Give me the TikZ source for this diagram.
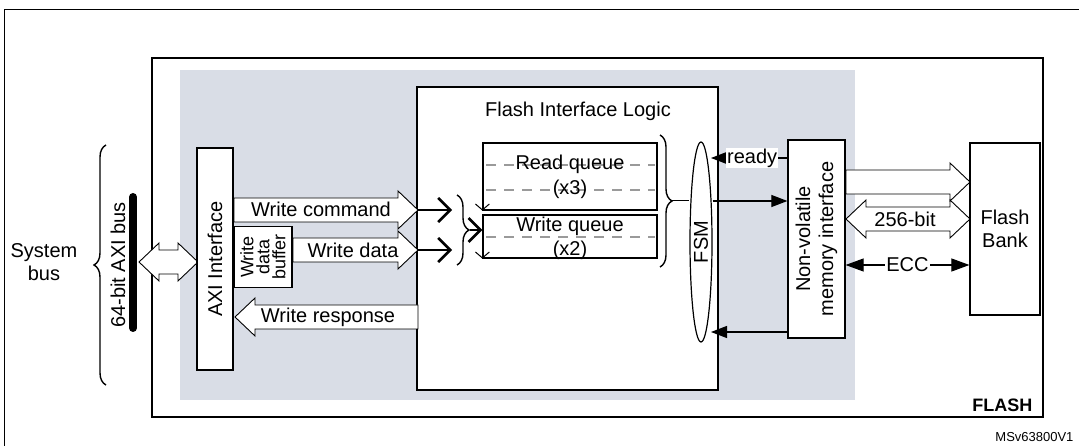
\documentclass[tikz,border=0pt]{standalone}
\usepackage{fontspec}
\setmainfont{Liberation Sans}
\usetikzlibrary{arrows.meta,shapes.geometric,decorations.pathreplacing}
\definecolor{bggray}{HTML}{D9DDE6}
\definecolor{qline}{HTML}{9A9A9A}
\tikzset{
  box/.style={draw, fill=white, line width=1.2pt, inner sep=0pt},
  lbl/.style={font=\fontsize{20}{23}\selectfont, align=center},
  fat/.style={draw, fill=white, line width=0.9pt, line join=miter},
  bar/.style={-{Triangle[length=16pt,width=12pt]}, line width=1.1pt},
  barb/.style={-{Straight Barb[length=12pt,width=24pt,line width=2.6pt]}, line width=2.6pt},
  qarr/.style={-{Straight Barb[length=6pt,width=14pt,line width=1pt]}, line width=0.8pt},
  brc/.style={decorate, decoration={brace, amplitude=12pt}, line width=1.4pt},
}
% hollow arrows: {x from}{x to}{y}
\newcommand{\fatR}[3]{\draw[fat] (#1,{#3-12}) -- ({#2-20},{#3-12}) -- ({#2-20},{#3-19})
  -- (#2,#3) -- ({#2-20},{#3+19}) -- ({#2-20},{#3+12}) -- (#1,{#3+12}) -- cycle;}
\newcommand{\fatL}[3]{\draw[fat] (#2,{#3-12}) -- ({#1+20},{#3-12}) -- ({#1+20},{#3-19})
  -- (#1,#3) -- ({#1+20},{#3+19}) -- ({#1+20},{#3+12}) -- (#2,{#3+12}) -- cycle;}
\newcommand{\fatLR}[3]{\draw[fat] ({#1+20},{#3-12}) -- ({#2-20},{#3-12}) -- ({#2-20},{#3-19})
  -- (#2,#3) -- ({#2-20},{#3+19}) -- ({#2-20},{#3+12}) -- ({#1+20},{#3+12})
  -- ({#1+20},{#3+19}) -- (#1,#3) -- ({#1+20},{#3-19}) -- cycle;}
\begin{document}
\begin{tikzpicture}[x=1pt,y=-1pt]
  \useasboundingbox (0,0) rectangle (1079,446);
  % frames
  \draw[line width=1pt] (4,10) rectangle (1090,460);
  \draw[line width=2pt] (152,58) rectangle (1043,417);
  \fill[bggray] (180,70) rectangle (855,400);
  \node[font=\bfseries\fontsize{18}{21}\selectfont, anchor=east] (flash) at (1036,405) {FLASH};
  \node[font=\fontsize{13}{15}\selectfont, anchor=east] (ref) at (1077,437) {MSv63800V1};

  % system bus side
  \node[lbl] (sys) at (44,262) {System\\bus};
  \draw[brc] (106,385) -- (106,145);
  \node[lbl, rotate=90] (axibus) at (118,265) {64-bit AXI bus};
  \draw[line width=8pt, line cap=round] (133,197) -- (133,328);
  \fatLR{139}{198}{262}

  % AXI interface
  \node[box, minimum width=36pt, minimum height=222pt] (axi) at (215,259) {};
  \node[lbl, rotate=90] at (axi) {AXI Interface};
  \node[box, minimum width=58pt, minimum height=61pt] (wdb) at (263,257) {};
  \node[font=\fontsize{18}{16}\selectfont, align=center, rotate=90] at (wdb) {Write\\data\\buffer};

  % flash interface logic
  \node[box, minimum width=301pt, minimum height=303pt] (fil) at (567.5,238.5) {};
  \node[lbl, anchor=north] (filt) at (578,98) {Flash Interface Logic};

  \fatR{234}{418}{210}
  \fatR{293}{418}{250}
  \fatL{235}{418}{317}
  \node[lbl] (wcmd) at (321,209) {Write command};
  \node[lbl] (wdat) at (353,250) {Write data};
  \node[lbl] (wrsp) at (328,317) {Write response};

  % queues
  \node[box, minimum width=174pt, minimum height=67pt] (rq) at (570,176.5) {};
  \node[box, minimum width=174pt, minimum height=43pt] (wq) at (570,236.5) {};
  \foreach \y in {165,190,237} \draw[qline, dash pattern=on 10pt off 8pt, line width=1.2pt] (486,\y) -- (655,\y);
  \node[lbl] at (570,164) {Read queue};
  \node[lbl] at (570,189) {(x3)};
  \node[lbl] at (570,226) {Write queue};
  \node[lbl] at (570,250) {(x2)};
  \draw[qarr] (rq.north west) -- (rq.south west);
  \draw[qarr] (wq.north west) -- (wq.south west);

  \coordinate (c1) at (418,210);
  \coordinate (c2) at (418,250);
  \draw[barb] (c1) -- (452,210);
  \draw[barb] (c2) -- (452,250);
  \draw[brc] (457,195) -- (457,265);
  \draw[barb] (470,230) -- (wq.west |- 0,230);
  \draw[brc] (660,135) -- (660,267);

  % FSM
  \node[draw, ellipse, fill=white, line width=1.2pt, minimum width=22pt, minimum height=200pt, inner sep=0pt] (fsm) at (701,242) {};
  \node[lbl, rotate=90] at (fsm) {FSM};
  \draw[line width=1pt] (672,201) -- (fsm.west |- 0,201);

  % non-volatile memory interface
  \node[box, minimum width=57pt, minimum height=198pt] (nvm) at (816.5,239) {};
  \node[lbl, rotate=90] at (nvm) {Non-volatile\\memory interface};
  \draw[bar] (fsm.east |- 0,201) -- (nvm.west |- 0,201);
  \draw[bar] (nvm.west |- 0,158) -- (711,158)
    node[midway, fill=white, inner sep=1pt, lbl, xshift=3pt] (rdy) {ready};
  \draw[bar] (nvm.west |- 0,332) -- (711,332);

  % flash bank
  \node[box, minimum width=70pt, minimum height=172pt] (bank) at (1005,229) {};
  \node[lbl] at (bank) {Flash\\Bank};
  \fatR{846}{970}{182}
  \fatLR{846}{970}{219}
  \node[lbl] (bits) at (905,219) {256-bit};
  \draw[{Triangle[length=18pt,width=13pt]}-{Triangle[length=18pt,width=13pt]}, line width=1.1pt]
    (nvm.east |- 0,265) -- (bank.west |- 0,265)
    node[midway, fill=white, inner sep=1pt, lbl] (ecc) {ECC};
\end{tikzpicture}
\end{document}
